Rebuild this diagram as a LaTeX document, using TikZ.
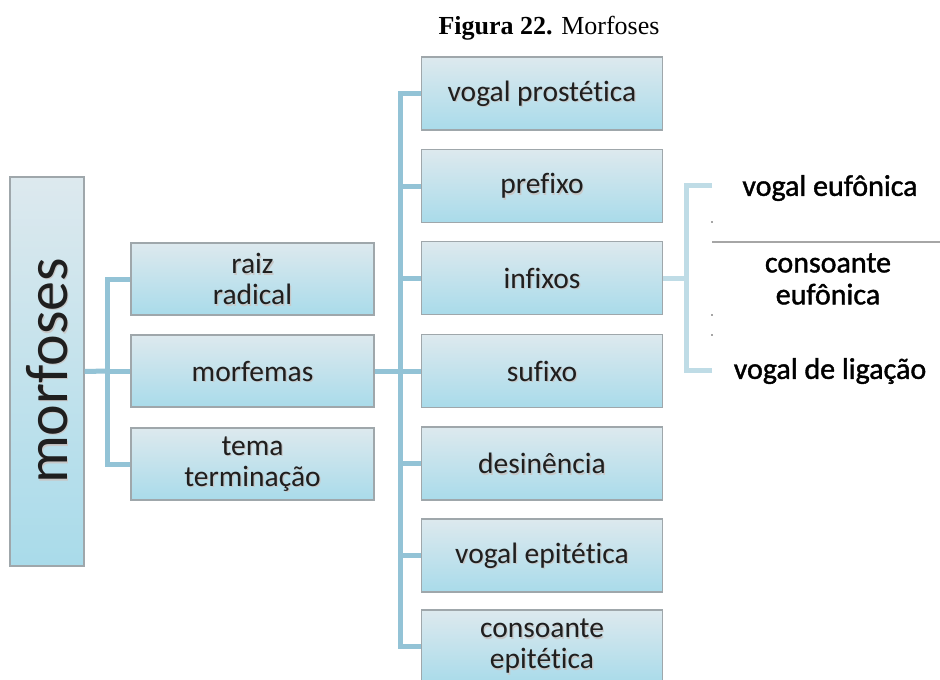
\documentclass[tikz,border=0pt]{standalone}
\usepackage{fontspec}
\setmainfont{Carlito}[Ligatures=NoCommon]
\newfontfamily\titlefont{Liberation Serif}
\newfontfamily\boldishfont{Carlito}[Ligatures=NoCommon,FakeBold=1.3]
\definecolor{boxtop}{HTML}{DDE9EE}
\definecolor{boxbot}{HTML}{A9DBEA}
\definecolor{boxline}{HTML}{9FA7AB}
\definecolor{conn}{HTML}{93C3D6}
\definecolor{connlight}{HTML}{BFDCE6}
\begin{document}
\begin{tikzpicture}[x=1pt,y=1pt,
  box/.style={draw=boxline, line width=1.2pt, top color=boxtop, bottom color=boxbot,
    inner sep=0pt},
  lvlbox/.style={box, minimum width=243pt, minimum height=72pt},
  rbox/.style={box, minimum width=241pt, minimum height=73pt},
  boxtext/.style={align=center, inner sep=0pt, font=\fontsize{29.5}{31}\selectfont, text=black!88},
  shadowtext/.style={boxtext, text=black!22},
  conline/.style={draw=conn, line width=5pt},
  lightline/.style={draw=connlight, line width=5pt},
  freetext/.style={align=center, inner sep=0pt, font=\boldishfont\fontsize{30}{32}\selectfont, text=black}]
\useasboundingbox (0,0) rectangle (940,-680);
\fill[white] (0,0) rectangle (940,-680);
\begin{scope}
\clip (0,0) rectangle (940,-680);
% title
\node[font=\titlefont\fontsize{26}{28}\selectfont] (title) at (549,-28) {\textbf{Figura 22.} Morfoses};
% main box
\node[box, minimum width=74pt, minimum height=389pt] (morf) at (47,-371.5) {};
\node[rotate=90, font=\fontsize{60}{62}\selectfont, text=black!22] (morfshadow) at (48.5,-372.5) {morfoses};
\node[rotate=90, font=\fontsize{60}{62}\selectfont, text=black!88] (morflabel) at (47,-371) {morfoses};
% level 2 boxes
\node[lvlbox] (raiz) at (252.5,-279) {};
\node[lvlbox] (morfemas) at (252.5,-371) {};
\node[lvlbox] (tema) at (252.5,-464) {};
% level 3 boxes
\node[rbox] (vp) at (542,-93.5) {};
\node[rbox] (pre) at (542,-186) {};
\node[rbox] (inf) at (542,-278) {};
\node[rbox] (suf) at (542,-371) {};
\node[rbox] (des) at (542,-463.5) {};
\node[rbox] (ve) at (542,-555.5) {};
\node[rbox] (ce) at (542,-646.5) {};
% box texts with soft shadow
\foreach \n/\t in {raiz/{raiz\\radical}, morfemas/{morfemas}, tema/{tema\\terminação},
  vp/{vogal prostética}, pre/{prefixo}, inf/{infixos}, suf/{sufixo}, des/{desinência},
  ve/{vogal epitética}, ce/{consoante\\epitética}}{
  \node[shadowtext] (\n-s) at ([shift={(1.2,-1.5)}]\n.center) {\t};
  \node[boxtext] (\n-t) at (\n.center) {\t};
}
% right texts
\node[freetext] (veu) at (830,-188) {vogal eufônica};
\node[freetext] (ceu) at (828,-279) {consoante\\eufônica};
\node[freetext] (vl) at (830,-371) {vogal de ligação};
% connectors left
\coordinate (bl) at (107,-371);
\draw[conline] (morf.east) -- (bl);
\draw[conline] (raiz.west) -| (bl);
\draw[conline] (tema.west) -| (bl);
\draw[conline] (bl) -- (morfemas.west);
% connectors middle
\coordinate (bm) at (400,-371);
\draw[conline] (morfemas.east) -- (bm);
\foreach \n in {vp,pre,inf,suf,des,ve,ce}{
  \draw[conline] (\n.west) -| (bm);
}
% connectors right
\coordinate (br) at (686,-278);
\coordinate (rt) at (712,-185);
\coordinate (rb) at (712,-370);
\draw[lightline] (inf.east) -- (br);
\draw[lightline] (rt) -| (br);
\draw[lightline] (rb) -| (br);
% separator line and specks
\draw[draw=black!35, line width=1.3pt] (712,-242) -- (940,-242);
\fill[black!35] (711,-221) rectangle (713,-223);
\fill[black!35] (711,-314) rectangle (713,-316);
\fill[black!35] (711,-334) rectangle (713,-336);
\end{scope}
\end{tikzpicture}
\end{document}
